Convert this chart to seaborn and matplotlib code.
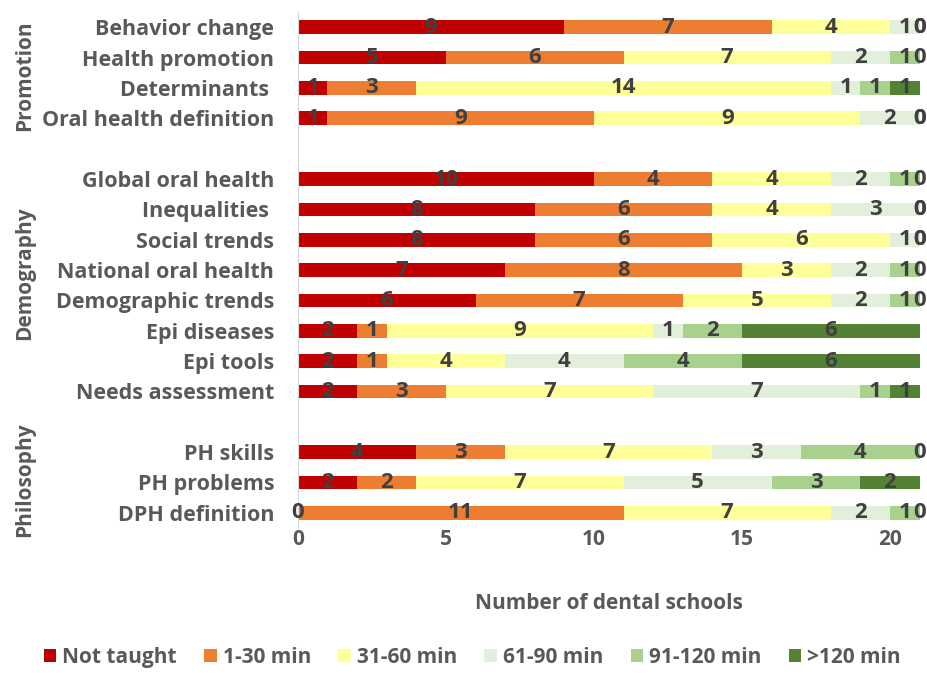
import numpy as np
import pandas as pd
import seaborn as sns
import matplotlib.pyplot as plt
from matplotlib.patches import Patch

# --- DATA ---
topics = ["Behavior change", "Health promotion", "Determinants ", "Oral health definition", "",
          "Global oral health", "Inequalities ", "Social trends", "National oral health",
          "Demographic trends", "Epi diseases", "Epi tools", "Needs assessment", " ",
          "PH skills", "PH problems", "DPH definition"]
bands = ["Not taught", "1-30 min", "31-60 min", "61-90 min", "91-120 min", ">120 min"]
not_taught = [9, 5, 1, 1, np.nan, 10, 8, 8, 7, 6, 2, 2, 2, np.nan, 4, 2, 0]
min_1_30 = [7, 6, 3, 9, np.nan, 4, 6, 6, 8, 7, 1, 1, 3, np.nan, 3, 2, 11]
min_31_60 = [4, 7, 14, 9, np.nan, 4, 4, 6, 3, 5, 9, 4, 7, np.nan, 7, 7, 7]
min_61_90 = [1, 2, 1, 2, np.nan, 2, 3, 1, 2, 2, 1, 4, 7, np.nan, 3, 5, 2]
min_91_120 = [0, 1, 1, 0, np.nan, 1, 0, 0, 1, 1, 2, 4, 1, np.nan, 4, 3, 1]
min_120_plus = [0, 0, 1, 0, np.nan, 0, 0, 0, 0, 0, 6, 6, 1, np.nan, 0, 2, 0]
groups = ["Promotion", "Demography", "Philosophy"]
group_pos = [1.6, 8.1, 14.9]   # row position of each group label

colors = ["#C00000", "#ED7D31", "#FFFF99", "#E2EFDA", "#A9D18E", "#548235"]
text_col = "#404040"
axis_col = "#595959"

df = pd.DataFrame({"topic": topics})
for b, vals in zip(bands, [not_taught, min_1_30, min_31_60, min_61_90, min_91_120, min_120_plus]):
    df[b] = vals
cum = df[bands].cumsum(axis=1)
left = cum - df[bands]

sns.set_style("white")
plt.rcParams["font.family"] = ["Open Sans", "DejaVu Sans"]
plt.rcParams["font.weight"] = "bold"

fig = plt.figure(figsize=(9.28, 6.73), dpi=100)
ax = fig.add_axes([0.321, 0.2155, 0.67, 0.7665])

# stacked bars: draw cumulative totals from the outermost layer inwards
for i in range(len(bands) - 1, -1, -1):
    plot_df = pd.DataFrame({"topic": topics, "val": cum[bands[i]]})
    sns.barplot(data=plot_df, x="val", y="topic", order=topics, orient="h",
                color=colors[i], width=0.45, saturation=1, ax=ax, linewidth=0)

# segment labels
for r in range(len(topics)):
    for b in bands:
        v = df.loc[r, b]
        if np.isnan(v):
            continue
        xc = left.loc[r, b] + v / 2
        ax.text(xc, r, f"{int(v)}", ha="center", va="center", fontsize=16,
                fontweight="bold", color=text_col)

ax.set_xlim(0, 21)
ax.set_xticks([0, 5, 10, 15, 20])
ax.set_xlabel("Number of dental schools", fontsize=15, fontweight="bold", color=axis_col, labelpad=31)
ax.set_ylabel("")
ax.tick_params(axis="x", labelsize=15, colors=axis_col, length=0, pad=1)
ax.tick_params(axis="y", labelsize=15.5, colors=axis_col, length=0, pad=17)
for lab in ax.get_yticklabels() + ax.get_xticklabels():
    lab.set_fontweight("bold")
for s in ["top", "right", "bottom"]:
    ax.spines[s].set_visible(False)
ax.spines["left"].set_color("#D9D9D9")

# group labels
gx = (25 - 298) / 622
for g, yp in zip(groups, group_pos):
    ax.text(gx, yp, g, transform=ax.get_yaxis_transform(), rotation=90,
            ha="center", va="center", fontsize=15, fontweight="bold", color=axis_col)

handles = [Patch(facecolor=c, edgecolor="none") for c in colors]
fig.legend(handles, bands, loc="lower center", bbox_to_anchor=(0.509, -0.02), ncol=6,
           frameon=False, fontsize=15, handlelength=0.6, handleheight=0.6,
           handletextpad=0.3, columnspacing=1.3, labelcolor=axis_col)

fig.savefig("out.png", dpi=100)
